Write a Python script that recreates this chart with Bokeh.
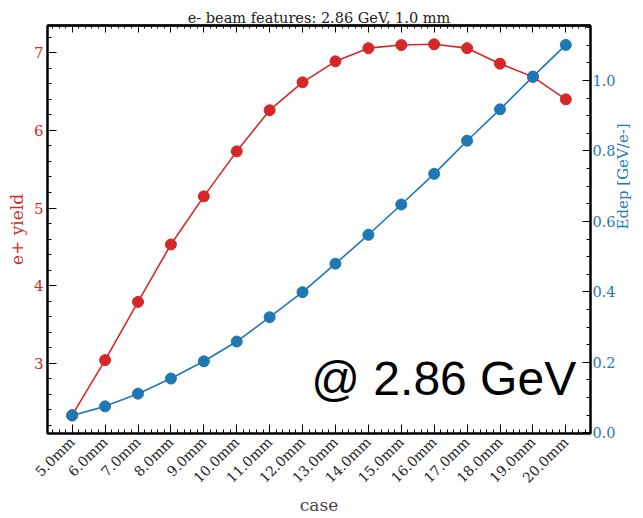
from math import pi

from bokeh.embed import file_html
from bokeh.models import (ColumnDataSource, FixedTicker, Label, LinearAxis,
                          NumeralTickFormatter, Range1d)
from bokeh.plotting import figure
from bokeh.resources import INLINE

# target thickness cases
cases = ["5.0mm", "6.0mm", "7.0mm", "8.0mm", "9.0mm", "10.0mm", "11.0mm", "12.0mm",
         "13.0mm", "14.0mm", "15.0mm", "16.0mm", "17.0mm", "18.0mm", "19.0mm", "20.0mm"]

# positron yield per case (left axis)
yield_ep = [2.33, 3.04, 3.79, 4.53, 5.15, 5.73, 6.26, 6.62,
            6.89, 7.06, 7.10, 7.11, 7.06, 6.86, 6.69, 6.40]

# deposited energy per electron [GeV/e-] (right axis)
edep = [0.049, 0.075, 0.111, 0.154, 0.203, 0.259, 0.328, 0.399,
        0.480, 0.562, 0.648, 0.735, 0.829, 0.918, 1.011, 1.101]

yield_ticks = [3, 4, 5, 6, 7]
edep_ticks = [0.0, 0.2, 0.4, 0.6, 0.8, 1.0]

RED = "#d62728"
BLUE = "#1f77b4"
SERIF = "DejaVu Serif"

idx = list(range(len(cases)))
src = ColumnDataSource(dict(x=idx, y=yield_ep, e=edep))

p = figure(width=643, height=518, output_backend="svg", toolbar_location=None,
           x_range=Range1d(-0.75, 15.75), y_range=Range1d(2.094, 7.352),
           min_border_left=47, min_border_right=45, min_border_top=25,
           min_border_bottom=85, background_fill_color="white",
           border_fill_color="white")
p.extra_y_ranges = {"edep": Range1d(-0.002, 1.156)}

p.title.text = "e- beam features: 2.86 GeV, 1.0 mm"
p.title.align = "center"
p.title.text_font = SERIF
p.title.text_font_size = "14.5px"
p.title.text_font_style = "normal"
p.title.text_color = "#222222"
p.title.standoff = 0
p.title.offset = 0

p.xgrid.visible = False
p.ygrid.visible = False
p.outline_line_color = "black"
p.outline_line_width = 2


def style_axis(ax, label_color):
    ax.axis_line_color = "black"
    ax.axis_line_width = 2
    ax.major_tick_in = 9
    ax.major_tick_out = 0
    ax.minor_tick_in = 4
    ax.minor_tick_out = 0
    ax.major_tick_line_color = "black"
    ax.minor_tick_line_color = "black"
    ax.major_label_text_font = SERIF
    ax.major_label_text_color = label_color
    ax.axis_label_text_font = SERIF
    ax.axis_label_text_font_style = "normal"


x_minor = [i + k * 0.2 for i in range(-1, 16) for k in range(1, 5)]
x_ticker = FixedTicker(ticks=idx, minor_ticks=x_minor)

# bottom axis: case labels
xax = p.xaxis[0]
xax.ticker = x_ticker
xax.major_label_overrides = {i: c for i, c in zip(idx, cases)}
xax.major_label_orientation = pi / 4
xax.major_label_text_font_size = "14px"
xax.major_label_standoff = 6
xax.axis_label = "case"
xax.axis_label_text_font_size = "17px"
xax.axis_label_standoff = 0
style_axis(xax, "#222222")

# top edge: label-free tick marks (long at each case, short in between)
top_major = LinearAxis(ticker=FixedTicker(ticks=[], minor_ticks=idx))
style_axis(top_major, "#222222")
top_major.minor_tick_in = 7
top_major.major_label_standoff = 0
p.add_layout(top_major, "above")

top_minor = LinearAxis(ticker=FixedTicker(ticks=[], minor_ticks=x_minor))
style_axis(top_minor, "#222222")
top_minor.minor_tick_in = 3
top_minor.major_label_standoff = 0
p.add_layout(top_minor, "above")

# left axis: positron yield
yax = p.yaxis[0]
yax.ticker = FixedTicker(ticks=yield_ticks,
                         minor_ticks=[2 + k * 0.2 for k in range(1, 28)])
yax.major_label_text_font_size = "15px"
yax.axis_label = "e+ yield"
yax.axis_label_text_font_size = "17px"
yax.axis_label_text_color = RED
yax.axis_label_standoff = 4
yax.major_label_standoff = 4
style_axis(yax, RED)

# right axis: deposited energy, title reading bottom-to-top
rax = LinearAxis(y_range_name="edep",
                 ticker=FixedTicker(ticks=edep_ticks,
                                    minor_ticks=[k * 0.05 for k in range(0, 24)]),
                 formatter=NumeralTickFormatter(format="0.0"))
style_axis(rax, BLUE)
rax.major_tick_in = 8
rax.major_label_text_font_size = "14.5px"
rax.major_label_standoff = 2
rax.axis_label = "Edep [GeV/e-]"
rax.axis_label_text_font_size = "15px"
rax.axis_label_text_color = BLUE
rax.axis_label_standoff = 4
rax.axis_label_orientation = pi / 2
rax.axis_label_text_baseline = "top"
p.add_layout(rax, "right")

# positron yield curve
p.line("x", "y", source=src, line_color=RED, line_width=1.6)
p.scatter("x", "y", source=src, size=11, fill_color=RED, line_color=RED)

# deposited energy curve
p.line("x", "e", source=src, y_range_name="edep", line_color=BLUE, line_width=1.6)
p.scatter("x", "e", source=src, y_range_name="edep", size=11,
          fill_color=BLUE, line_color=BLUE)

# beam energy annotation
p.add_layout(Label(x=11.29, y=2.80, text="@ 2.86 GeV", text_align="center",
                   text_baseline="middle", text_font="Liberation Sans",
                   text_font_size="48px", text_color="black"))

open("out.html", "w").write(file_html(p, INLINE))
